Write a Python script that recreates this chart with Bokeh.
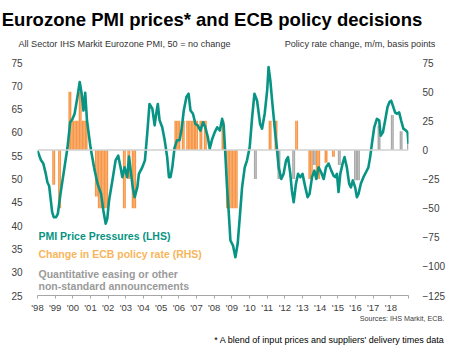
from bokeh.plotting import figure
from bokeh.models import Range1d, LinearAxis, Span, FixedTicker
from bokeh.core.properties import value
from bokeh.embed import file_html
from bokeh.resources import INLINE

# ---------------- data ----------------
pmi_dates = [1998.0, 1998.2, 1998.33, 1998.47, 1998.56, 1998.66, 1998.75, 1998.83, 1998.92, 1999.05,
             1999.15, 1999.3, 1999.5, 1999.7, 1999.85, 1999.98, 2000.1, 2000.26, 2000.39, 2000.5,
             2000.6, 2000.7, 2000.8, 2001.0, 2001.2, 2001.4, 2001.6, 2001.73, 2001.86, 2001.95,
             2002.05, 2002.24, 2002.42, 2002.57, 2002.7, 2002.8, 2002.93, 2003.08, 2003.18, 2003.3,
             2003.4, 2003.5, 2003.65, 2003.74, 2003.93, 2004.08, 2004.21, 2004.34, 2004.5, 2004.63,
             2004.72, 2004.81, 2004.91, 2005.06, 2005.2, 2005.34, 2005.44, 2005.53, 2005.63, 2005.76,
             2005.9, 2006.04, 2006.15, 2006.28, 2006.43, 2006.55, 2006.66, 2006.8, 2006.94, 2007.07,
             2007.22, 2007.38, 2007.5, 2007.64, 2007.75, 2007.89, 2008.03, 2008.17, 2008.32, 2008.45,
             2008.54, 2008.64, 2008.73, 2008.83, 2008.92, 2009.07, 2009.2, 2009.33, 2009.45, 2009.58,
             2009.73, 2009.86, 2010.01, 2010.15, 2010.28, 2010.43, 2010.6, 2010.71, 2010.86, 2011.0,
             2011.08, 2011.18, 2011.28, 2011.37, 2011.46, 2011.56, 2011.65, 2011.8, 2011.93, 2012.07,
             2012.18, 2012.31, 2012.4, 2012.5, 2012.63, 2012.75, 2012.88, 2013.0, 2013.16, 2013.29,
             2013.4, 2013.54, 2013.67, 2013.78, 2013.91, 2014.05, 2014.2, 2014.33, 2014.48, 2014.63,
             2014.76, 2014.85, 2014.95, 2015.04, 2015.14, 2015.27, 2015.38, 2015.51, 2015.64, 2015.74,
             2015.85, 2015.98, 2016.08, 2016.17, 2016.3, 2016.45, 2016.6, 2016.73, 2016.83, 2016.93,
             2017.06, 2017.21, 2017.34, 2017.43, 2017.55, 2017.68, 2017.81, 2017.92, 2018.02, 2018.11,
             2018.24, 2018.34, 2018.47, 2018.58, 2018.71, 2018.86, 2018.95, 2019.0]
pmi_values = [56.1, 54.0, 53.3, 51.1, 49.3, 48.5, 45.5, 42.9, 41.8, 41.8,
              42.5, 46.8, 51.8, 56.8, 62.2, 62.9, 64.0, 67.6, 70.8, 68.3,
              64.7, 68.5, 62.6, 56.8, 52.5, 49.0, 46.8, 43.2, 40.4, 41.5,
              45.4, 49.7, 54.0, 55.0, 52.5, 50.4, 52.5, 50.4, 54.8, 51.0,
              48.0, 46.1, 48.2, 51.1, 52.5, 54.0, 59.7, 66.1, 65.1, 61.5,
              64.0, 66.1, 62.6, 61.1, 58.3, 54.7, 50.4, 50.4, 52.5, 56.8,
              58.3, 58.3, 60.5, 64.7, 67.6, 68.3, 64.7, 64.0, 61.8, 61.5,
              60.4, 62.2, 61.1, 59.0, 56.5, 58.6, 60.0, 61.1, 60.4, 62.9,
              61.5, 54.7, 48.2, 42.5, 36.8, 35.7, 33.2, 36.1, 41.8, 48.2,
              52.5, 54.0, 56.8, 63.3, 68.3, 66.8, 61.8, 60.8, 64.0, 69.0,
              74.0, 71.1, 66.8, 63.3, 59.7, 56.2, 52.5, 50.0, 51.1, 54.0,
              54.7, 51.1, 47.5, 45.0, 49.0, 51.1, 50.4, 51.1, 48.2, 46.1,
              46.8, 50.4, 51.8, 50.0, 52.5, 51.5, 50.0, 52.5, 53.3, 51.8,
              50.7, 50.4, 51.1, 47.2, 51.1, 53.3, 54.7, 52.5, 49.0, 48.2,
              49.7, 48.2, 46.1, 46.8, 49.0, 50.4, 51.5, 52.5, 54.7, 57.6,
              61.1, 62.9, 62.6, 59.3, 60.0, 62.6, 65.4, 66.5, 66.8, 65.8,
              64.3, 64.0, 64.3, 62.6, 60.8, 60.4, 60.0, 57.6]

# ECB policy rate change, m/m, basis points (month as "YYYY-MM")
rate_months = ["1998-11", "1998-12", "1999-03", "1999-04", "1999-10", "1999-11",
               "1999-12", "2000-01", "2000-02", "2000-03", "2000-04", "2000-05", "2000-06",
               "2000-07", "2000-08", "2000-09", "2000-10",
               "2001-04", "2001-05", "2001-06", "2001-07", "2001-08", "2001-09", "2001-10",
               "2001-11", "2001-12",
               "2002-11", "2002-12", "2003-02", "2003-03", "2003-05", "2003-06", "2003-07",
               "2005-10", "2005-11", "2005-12", "2006-01", "2006-03", "2006-04", "2006-06",
               "2006-07", "2006-08", "2006-09", "2006-10", "2006-11", "2006-12", "2007-01",
               "2007-03", "2007-04", "2007-06", "2007-07",
               "2008-06", "2008-07",
               "2008-09", "2008-10", "2008-11", "2008-12", "2009-01", "2009-02", "2009-03", "2009-04",
               "2011-02", "2011-03", "2011-06", "2011-07", "2012-08", "2012-09",
               "2013-05", "2013-06", "2013-07", "2013-10", "2013-11", "2013-12",
               "2014-04", "2014-05", "2014-09", "2014-10"]
rate_changes = [-30, -30, -50, -50, 50, 50,
                25, 25, 25, 25, 25, 50, 50,
                25, 25, 25, 25,
                -40, -40, -50, -50, -50, -50, -50,
                -50, -50,
                -50, -50, -25, -25, -50, -50, -50,
                25, 25, 25, 25, 25, 25, 25,
                25, 25, 25, 25, 25, 25, 25,
                25, 25, 25, 25,
                25, 25,
                -50, -50, -50, -50, -50, -50, -50, -50,
                25, 25, 25, 25, 25, 25,
                -25, -25, -25, -25, -25, -25,
                -11, -11, -6, -6]

# Quantitative easing or other non-standard announcements
qe_months = ["2010-04", "2010-05", "2011-08", "2011-09", "2012-06", "2012-07",
             "2013-08", "2013-09", "2015-01", "2015-02", "2015-12", "2016-01", "2016-02", "2016-03",
             "2017-04", "2017-05", "2018-01", "2018-02", "2018-07", "2018-08", "2018-12"]
qe_values = [-25, -25, -25, -25, -25, -25,
             -13, -13, -13, -13, -26, -26, -26, -26,
             21, 21, 30, 30, 16, 16, 7]

year_ticks = list(range(1998, 2020))
year_labels = ["'98", "'99", "'00", "'01", "'02", "'03", "'04", "'05", "'06", "'07", "'08",
               "'09", "'10", "'11", "'12", "'13", "'14", "'15", "'16", "'17", "'18", ""]
lhs_ticks = [25, 30, 35, 40, 45, 50, 55, 60, 65, 70, 75]
rhs_ticks = [-125, -100, -75, -50, -25, 0, 25, 50, 75]

TEAL = "#089484"
ORANGE = "#f79646"
GREY = "#a9a9a9"
FONT = "Liberation Sans"


def month_center(s):
    y, m = s.split("-")
    return int(y) + (int(m) - 1) / 12 + 1 / 24


# ---------------- figure ----------------
W, H = 459, 347
FL, FR, FT, FB = 37, 408, 62, 295      # frame edges in page pixels
X0, X1, Y0, Y1 = 1998.0, 2019.0, 25, 75

p = figure(width=W, height=H, output_backend="svg", toolbar_location=None,
           x_range=Range1d(X0, X1), y_range=Range1d(Y0, Y1),
           min_border_left=FL, min_border_right=W - FR, min_border_top=FT,
           min_border_bottom=H - FB)
p.outline_line_color = None
p.grid.visible = False
p.extra_y_ranges = {"rhs": Range1d(-125, 75)}


def xd(xp):
    return X0 + (xp - FL) / (FR - FL) * (X1 - X0)


def yd(yp):
    return Y0 + (FB - yp) / (FB - FT) * (Y1 - Y0)


p.vbar(x=[month_center(m) for m in rate_months], top=rate_changes, bottom=0, width=1 / 12,
       color=ORANGE, line_color=None, y_range_name="rhs")
p.vbar(x=[month_center(m) for m in qe_months], top=qe_values, bottom=0, width=1 / 12,
       color=GREY, line_color=None, y_range_name="rhs")
p.add_layout(Span(location=0, dimension="width", y_range_name="rhs",
                  line_color="#d0d0d0", line_width=1.5))
p.line(pmi_dates, pmi_values, line_color=TEAL, line_width=2.6, line_join="round")

xa = p.xaxis[0]
xa.ticker = FixedTicker(ticks=year_ticks)
xa.major_label_overrides = {t: l for t, l in zip(year_ticks, year_labels)}
xa.axis_line_color = "#a6a6a6"
xa.major_tick_line_color = "#a6a6a6"
xa.major_tick_in = 0
xa.major_tick_out = 3
xa.minor_tick_line_color = None
xa.major_label_text_font = FONT
xa.major_label_text_font_size = "9.5px"
xa.major_label_text_color = "#404040"
xa.major_label_standoff = 3

ya = p.yaxis[0]
ya.ticker = FixedTicker(ticks=lhs_ticks)
ra = LinearAxis(y_range_name="rhs", ticker=FixedTicker(ticks=rhs_ticks))
p.add_layout(ra, "right")
for ax in (ya, ra):
    ax.axis_line_color = None
    ax.major_tick_line_color = None
    ax.minor_tick_line_color = None
    ax.major_label_text_font = FONT
    ax.major_label_text_font_size = "10px"
    ax.major_label_text_color = "#404040"
ya.major_label_standoff = 9
ra.major_label_standoff = 8


# text rows outside the frame: bare axes whose tick labels carry the texts
def text_row(place, items, size, color, bold=False, standoff=0):
    ticks = [xd(c) for c, _ in items]
    ax = LinearAxis(ticker=FixedTicker(ticks=ticks),
                    major_label_overrides={t: s for t, (_, s) in zip(ticks, items)})
    ax.axis_line_color = None
    ax.major_tick_line_color = None
    ax.minor_tick_line_color = None
    ax.major_tick_out = 0
    ax.major_tick_in = 0
    ax.major_label_standoff = standoff
    ax.major_label_text_font = FONT
    ax.major_label_text_font_size = size
    ax.major_label_text_color = color
    ax.major_label_text_font_style = "bold" if bold else "normal"
    p.add_layout(ax, place)


text_row("above", [(124, "All Sector IHS Markit Eurozone PMI, 50 = no change"),
                   (359.5, "Policy rate change, m/m, basis points")], "9.1px", "#333333",
         standoff=14)
text_row("above", [(211.5, "Eurozone PMI prices* and ECB policy decisions")], "18.5px",
         "#000000", bold=True, standoff=6)
text_row("below", [(401.5, "Sources: IHS Markit, ECB.")], "7.2px", "#404040", standoff=-2)
text_row("below", [(329, "* A blend of input prices and suppliers' delivery times data")],
         "9px", "#000000", standoff=9)


# legend-like texts inside the plot
def inner(txt, xp, yp, color):
    p.text(x=[xd(xp)], y=[yd(yp)], text=[txt], text_font=value(FONT), text_font_size="10.5px",
           text_color=color, text_font_style="bold", text_align="left", text_baseline="middle")


inner("PMI  Price Pressures (LHS)", 38, 235, TEAL)
inner("Change in ECB policy rate (RHS)", 38, 253.5, "#f8b55c")
inner("Quantitative easing or other", 38, 273, "#9a9a9a")
inner("non-standard announcements", 38, 285.5, "#9a9a9a")

open("out.html", "w").write(file_html(p, INLINE))
